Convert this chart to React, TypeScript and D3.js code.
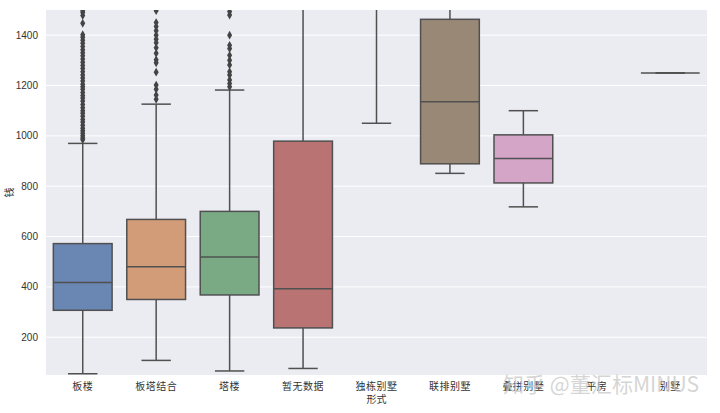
import React from "react";
import * as d3 from "d3";

const categories = ["板楼", "板塔结合", "塔楼", "暂无数据", "独栋别墅", "联排别墅", "叠拼别墅", "平房", "别墅"];
const colors = ["#6a86b2", "#d39c78", "#7aaa84", "#b87372", "#8e80b0", "#9a8877", "#d5a5c8", "#8c8c8c", "#c1b37f"];
// [whiskerLow, Q1, median, Q3, whiskerHigh]; null = nothing drawn
const boxStats: (number[] | null)[] = [
  [55, 307, 417, 572, 970],
  [108, 350, 480, 668, 1126],
  [66, 368, 519, 700, 1182],
  [76, 237, 393, 979, 2400],
  [1050, 2200, 2800, 3500, 5000],
  [851, 889, 1136, 1463, 1900],
  [718, 813, 910, 1004, 1100],
  null,
  [1250, 1250, 1250, 1250, 1250],
];
const outliers0 = [985, 992, 1000, 1010, 1020, 1030, 1042, 1055, 1065, 1078, 1090, 1100, 1112, 1125, 1138, 1150, 1160, 1172, 1185, 1195, 1205, 1218, 1230, 1242, 1255, 1268, 1280, 1292, 1305, 1318, 1330, 1342, 1355, 1368, 1380, 1392, 1402, 1447, 1478, 1490, 1497];
const outliers1 = [1145, 1162, 1185, 1202, 1253, 1290, 1302, 1328, 1350, 1370, 1384, 1400, 1418, 1434, 1450, 1497];
const outliers2 = [1195, 1208, 1222, 1242, 1255, 1282, 1300, 1320, 1347, 1360, 1400, 1480, 1494];
const outlierLists: number[][] = [outliers0, outliers1, outliers2, [], [], [], [], [], []];
const yTicks = [200, 400, 600, 800, 1000, 1200, 1400];

const W = 720, H = 413;
const left = 46, right = 707, top = 10, bottom = 375;
const font = "'Noto Sans CJK SC', 'DejaVu Sans', sans-serif";

export default function App() {
  const x = d3.scaleBand<string>().domain(categories).range([left, right]).padding(0);
  const y = d3.scaleLinear().domain([50, 1500]).range([bottom, top]);
  const bw = x.bandwidth() * 0.8;
  const line = "#505050";
  const diamond = d3.symbol().type(d3.symbolDiamond).size(22)() as string;
  return (
    <svg width={W} height={H} style={{ position: "fixed", left: 0, top: 0, background: "#fff" }} fontFamily={font}>
      <defs>
        <clipPath id="plot"><rect x={left} y={top} width={right - left} height={bottom - top} /></clipPath>
      </defs>
      <rect x={left} y={top} width={right - left} height={bottom - top} fill="#ebebf2" />
      {yTicks.map((t) => (
        <g key={t}>
          <line x1={left} x2={right} y1={y(t)} y2={y(t)} stroke="#fff" strokeWidth={1} />
          <text x={left - 8} y={y(t)} dy="0.35em" textAnchor="end" fontSize={10} fill="#333" fontFamily="'Liberation Sans', Arial, sans-serif">{t}</text>
        </g>
      ))}
      <g clipPath="url(#plot)">
        {categories.map((c, i) => {
          const s = boxStats[i];
          if (!s) return null;
          const cx = x(c)! + x.bandwidth() / 2;
          const [lo, q1, med, q3, hi] = s;
          return (
            <g key={c}>
              <line x1={cx} x2={cx} y1={y(lo)} y2={y(q1)} stroke={line} strokeWidth={1.5} />
              <line x1={cx} x2={cx} y1={y(q3)} y2={y(hi)} stroke={line} strokeWidth={1.5} />
              <line x1={cx - bw / 4} x2={cx + bw / 4} y1={y(lo)} y2={y(lo)} stroke={line} strokeWidth={1.5} />
              <line x1={cx - bw / 4} x2={cx + bw / 4} y1={y(hi)} y2={y(hi)} stroke={line} strokeWidth={1.5} />
              <rect x={cx - bw / 2} y={y(q3)} width={bw} height={Math.max(0, y(q1) - y(q3))} fill={colors[i]} stroke={line} strokeWidth={1.5} />
              <line x1={cx - bw / 2} x2={cx + bw / 2} y1={y(med)} y2={y(med)} stroke={line} strokeWidth={1.5} />
              {outlierLists[i].map((v, k) => (
                <path key={k} d={diamond} transform={`translate(${cx},${y(v)})`} fill="#444" />
              ))}
            </g>
          );
        })}
      </g>
      {categories.map((c) => (
        <text key={c} x={x(c)! + x.bandwidth() / 2} y={390} textAnchor="middle" fontSize={10} fill="#333" letterSpacing={0.5}>{c}</text>
      ))}
      <text x={(left + right) / 2} y={403} textAnchor="middle" fontSize={10} fill="#333">形式</text>
      <text transform={`translate(13,${(top + bottom) / 2}) rotate(-90)`} textAnchor="middle" fontSize={10} fill="#333">钱</text>
      <text x={503} y={392} fontSize={21} textLength={196} lengthAdjust="spacingAndGlyphs" fill="#c8c8c8" fillOpacity={0.75} fontFamily="'Noto Sans CJK SC', sans-serif">知乎 @董汇标MINUS</text>
    </svg>
  );
}
